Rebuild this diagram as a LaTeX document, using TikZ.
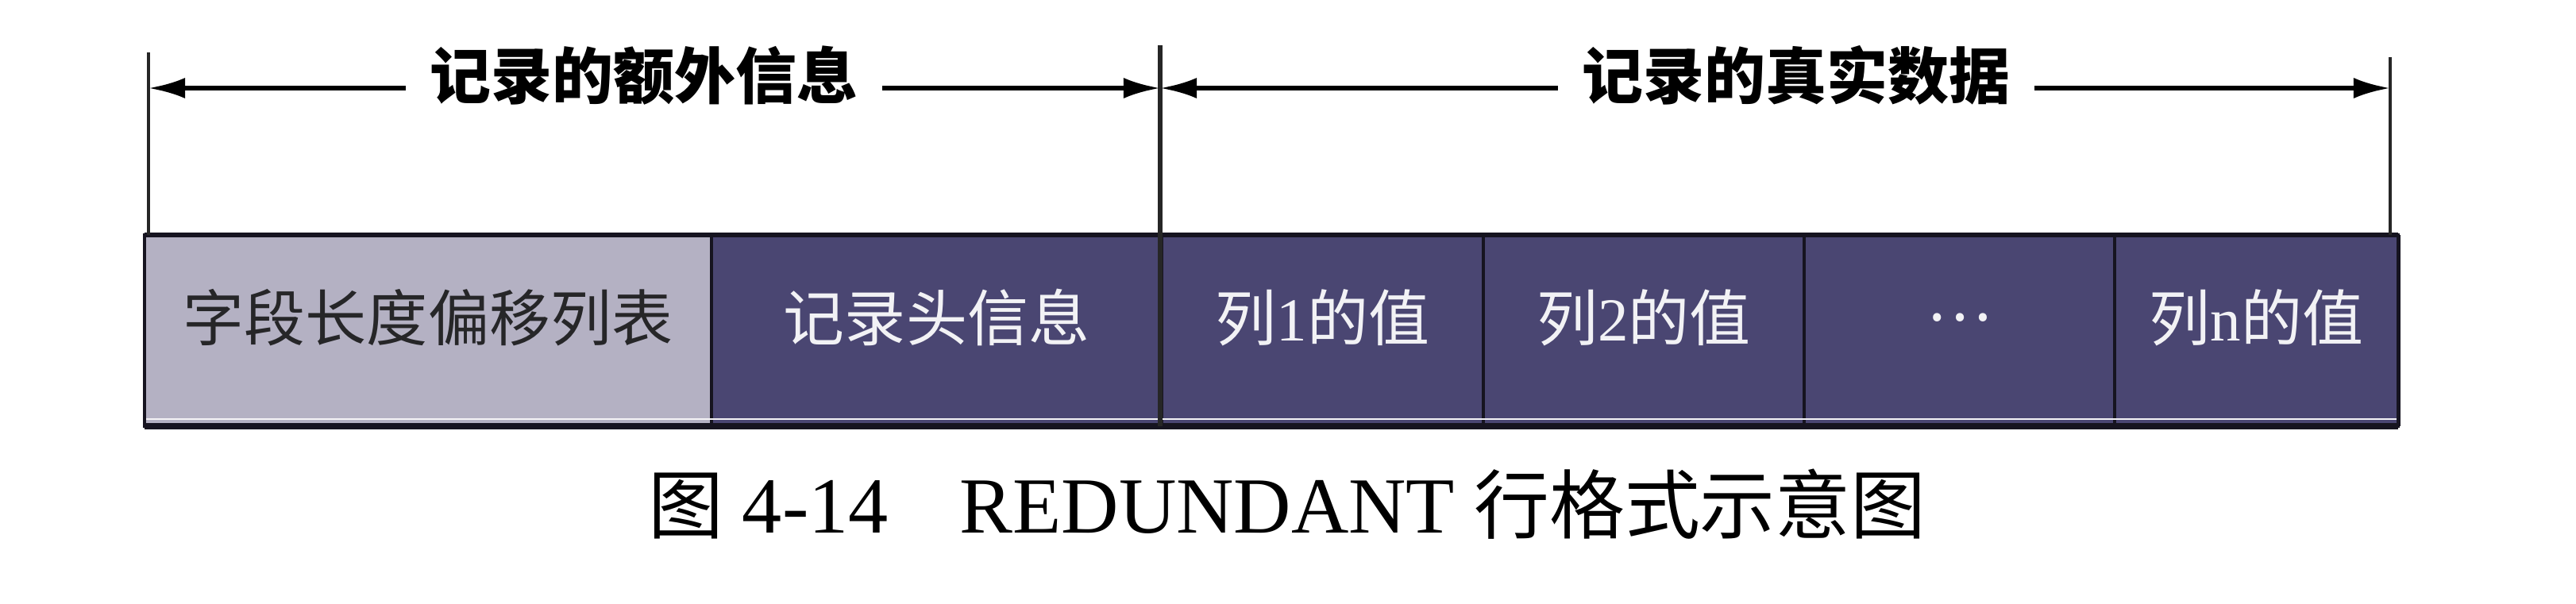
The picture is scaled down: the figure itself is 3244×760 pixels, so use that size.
\documentclass[tikz,border=0pt]{standalone}
\usepackage{fontspec}
\setmainfont{Liberation Serif}
\newfontfamily\cjk{Noto Sans CJK SC}
\usetikzlibrary{arrows.meta}
\definecolor{lightbox}{RGB}{180,177,195}
\definecolor{darkbox}{RGB}{74,70,114}
\definecolor{boxline}{RGB}{22,20,32}
\definecolor{darktext}{RGB}{38,38,40}
\definecolor{lighttext}{RGB}{242,242,245}
\begin{document}
\begin{tikzpicture}[x=0.01cm,y=-0.01cm,
  field/.style={minimum height=2.41cm, inner sep=0pt, outer sep=0pt,
    draw=boxline, line width=1pt,
    font=\fontsize{21.9}{24}\selectfont, text height=0.88em, text depth=0.12em},
  lightfield/.style={field, fill=lightbox, text=darktext},
  darkfield/.style={field, fill=darkbox, text=lighttext},
  toplabel/.style={inner xsep=0.3cm, inner ysep=0pt,
    font=\cjk\bfseries\fontsize{21.9}{24}\selectfont, text height=0.88em, text depth=0.12em},
  dimarrow/.style={-{Latex[length=0.46cm,width=0.26cm]}, line width=1.6pt, draw=black},
  tick/.style={line width=1pt, draw=black!85},
]
\useasboundingbox (0,0) rectangle (3244,760);

% record fields
\node[lightfield, minimum width=7.14cm] (f1) at (539,416.5) {\cjk 字段长度偏移列表};
\node[darkfield, minimum width=5.67cm] (f2) at (1179.5,416.5) {\cjk 记录头信息};
\node[darkfield, minimum width=4.05cm] (f3) at (1665.5,416.5) {{\cjk 列}1{\cjk 的值}};
\node[darkfield, minimum width=4.04cm] (f4) at (2070,416.5) {{\cjk 列}2{\cjk 的值}};
\node[darkfield, minimum width=3.91cm] (f5) at (2467.5,416.5) {\raisebox{0.33em}{\cjk …}};
\node[darkfield, minimum width=3.57cm] (f6) at (2841.5,416.5) {{\cjk 列}n{\cjk 的值}};

% thick top and bottom borders
\draw[line width=1.8pt, draw=boxline] (f1.north west) -- (f6.north east);
\draw[line width=2.2pt, draw=boxline] (f1.south west) -- (f6.south east);
\draw[line width=0.8pt, draw=white!85!lightbox] ([yshift=0.09cm]f1.south west) -- ([yshift=0.09cm]f6.south east);
\draw[line width=1.2pt, draw=boxline] (f1.north west) -- (f1.south west);
\draw[line width=1.4pt, draw=boxline] (f6.north east) -- (f6.south east);

% ticks
\coordinate (TL) at (187,66);
\coordinate (TM) at (1461,57);
\coordinate (TR) at (3010,72);
\draw[tick] (TL) -- (TL |- f1.north);
\draw[tick, line width=1.6pt] (TM) -- (TM |- f2.south);
\draw[tick] (TR) -- (TR |- f6.north);

% top labels with dimension arrows
\node[toplabel] (l1) at (811,111) {记录的额外信息};
\node[toplabel] (l2) at (2262,111) {记录的真实数据};
\draw[dimarrow] (l1.west) -- (TL |- l1.west);
\draw[dimarrow] (l1.east) -- (TM |- l1.east);
\draw[dimarrow] (l2.west) -- (TM |- l2.west);
\draw[dimarrow] (l2.east) -- (TR |- l2.east);

% caption
\node[inner sep=0pt, font=\fontsize{27}{32}\selectfont, text height=0.88em, text depth=0.12em] (cap) at (1621,658)
  {{\cjk 图} {\fontsize{28.5}{32}\selectfont 4-14}\hspace{0.95em}{\fontsize{28.5}{32}\selectfont REDUNDANT} {\cjk 行格式示意图}};
\end{tikzpicture}
\end{document}
